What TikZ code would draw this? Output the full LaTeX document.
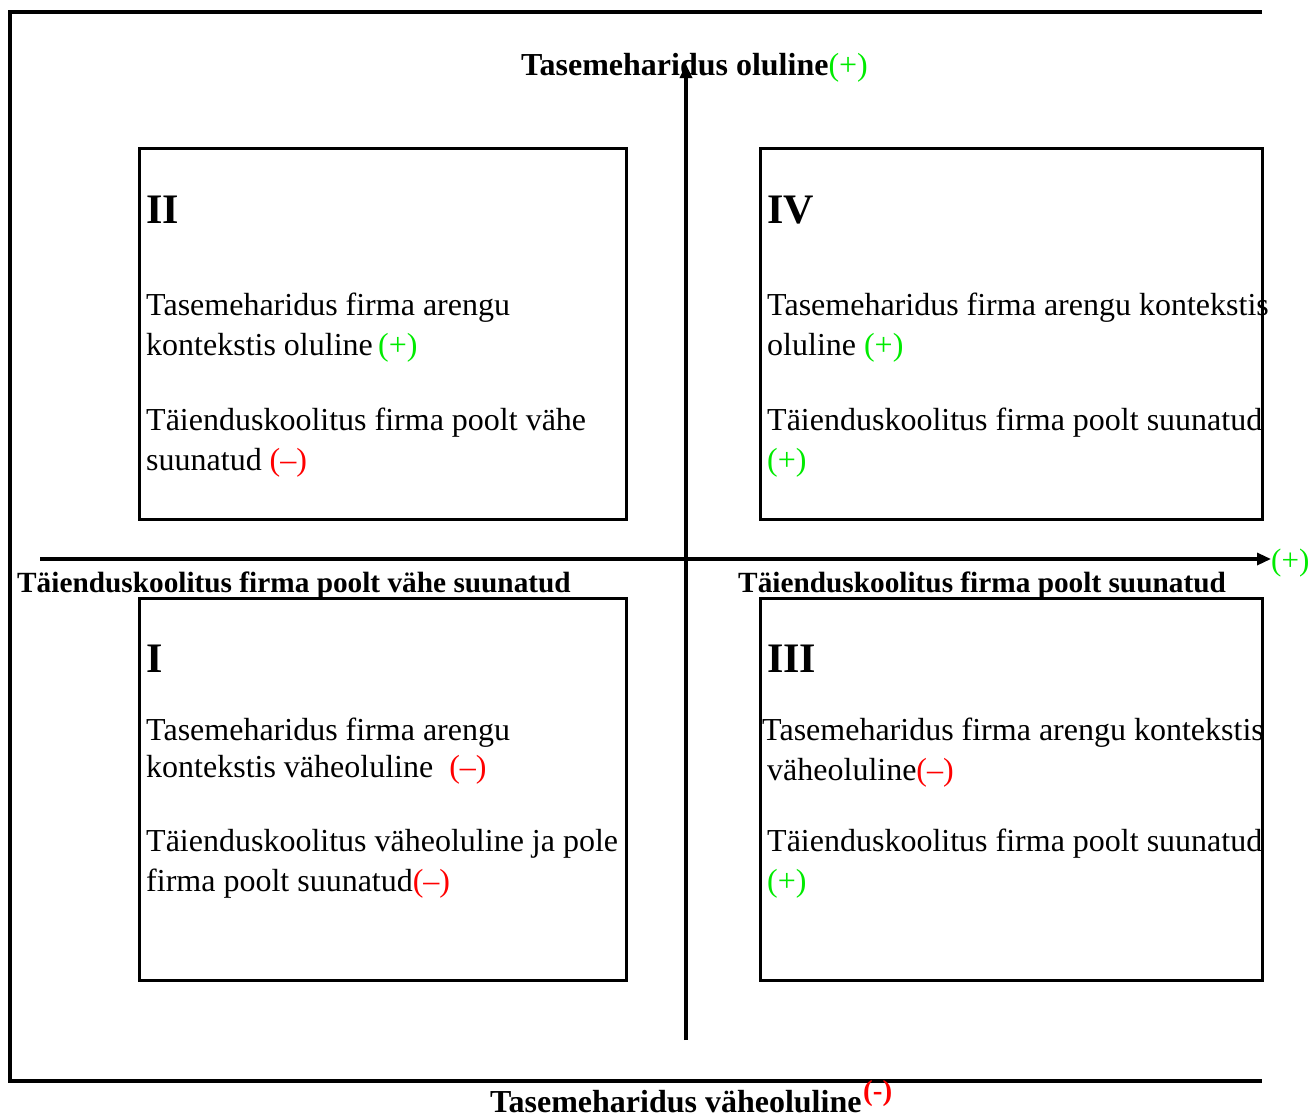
\documentclass[tikz,border=0pt]{standalone}
\usepackage{fontspec}
\setmainfont{Liberation Serif}
\usetikzlibrary{arrows.meta}
\definecolor{plusgreen}{RGB}{0,235,0}
\definecolor{minusred}{RGB}{255,0,0}
\newcommand{\pl}{\textcolor{plusgreen}{(+)}}
\newcommand{\mn}{\textcolor{minusred}{(–)}}
\tikzset{
  txt/.style={anchor=base west, inner sep=0pt, font=\fontsize{32}{36}\selectfont},
  head/.style={anchor=base west, inner sep=0pt, font=\bfseries\fontsize{29.3}{34}\selectfont},
  bighead/.style={anchor=base west, inner sep=0pt, font=\bfseries\fontsize{32}{36}\selectfont},
  roman/.style={anchor=base west, inner sep=0pt, font=\bfseries\fontsize{42}{48}\selectfont},
  quad/.style={draw, line width=3pt},
  axis/.style={line width=3.2pt, -{Triangle[length=14pt,width=12pt]}},
  frame/.style={line width=3.4pt}
}
\begin{document}
\begin{tikzpicture}[x=1pt,y=-1pt]
\useasboundingbox (0,0) rectangle (1309,1117);
% frame (left, top, bottom)
\draw[frame] (1262,12) -- (10,12) -- (10,1081) -- (1262,1081);
% quadrant boxes
\draw[quad] (139,148) rectangle (626,519);
\draw[quad] (760,148) rectangle (1262,519);
\draw[quad] (139,598) rectangle (626,980);
\draw[quad] (760,598) rectangle (1262,980);
% axes
\coordinate (vb) at (686,1040);
\coordinate (vt) at (686,64);
\coordinate (hl) at (40,559);
\coordinate (hr) at (1271,559);
\draw[axis] (vb) -- (vt);
\draw[axis] (hl) -- (hr);
% axis labels
\node[bighead] (ltop) at (521,75) {Tasemeharidus oluline\textmd{\pl}};
\node[bighead] (lbot) at (490,1112) {Tasemeharidus väheoluline};
\node[anchor=base west, inner sep=0pt, font=\bfseries\fontsize{29}{32}\selectfont, text=minusred] (lbotm) at (863,1100) {(-)};
\node[anchor=base west, inner sep=0pt, font=\fontsize{31}{34}\selectfont] (lright) at (1271,570) {\pl};
\node[head] (lleft) at (17,592) {Täienduskoolitus firma poolt vähe suunatud};
\node[head] (lrt) at (738,592) {Täienduskoolitus firma poolt suunatud};
% Quadrant II
\node[roman] (r2) at (146,223) {II};
\node[txt] (a1) at (146,315) {Tasemeharidus firma arengu};
\node[txt] (a2) at (146,355) {kontekstis oluline\,\pl};
\node[txt] (a3) at (146,430) {Täienduskoolitus firma poolt vähe};
\node[txt] (a4) at (146,470) {suunatud \mn};
% Quadrant IV
\node[roman] (r4) at (767,223) {IV};
\node[txt] (b1) at (767,315) {Tasemeharidus firma arengu kontekstis};
\node[txt] (b2) at (767,355) {oluline \pl};
\node[txt] (b3) at (767,430) {Täienduskoolitus firma poolt suunatud};
\node[txt] (b4) at (767,470) {\pl};
% Quadrant I
\node[roman] (r1) at (146,672) {I};
\node[txt] (c1) at (146,740) {Tasemeharidus firma arengu};
\node[txt] (c2) at (146,777) {kontekstis väheoluline \ \mn};
\node[txt] (c3) at (146,851) {Täienduskoolitus väheoluline ja pole};
\node[txt] (c4) at (146,891) {firma poolt suunatud\mn};
% Quadrant III
\node[roman] (r3) at (767,672) {III};
\node[txt] (d1) at (762,740) {Tasemeharidus firma arengu kontekstis};
\node[txt] (d2) at (767,780) {väheoluline\mn};
\node[txt] (d3) at (767,851) {Täienduskoolitus firma poolt suunatud};
\node[txt] (d4) at (767,891) {\pl};
\end{tikzpicture}
\end{document}
